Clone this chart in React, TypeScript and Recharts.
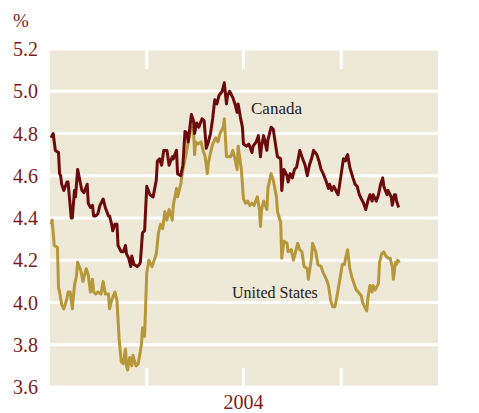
import React from 'react';
import { LineChart, Line, XAxis, YAxis, CartesianGrid } from 'recharts';

// day 0 = 1 July 2003, domain runs one year to 30 June 2004
const canadaDays = [
    1, 3, 5, 8, 9, 10, 11, 13, 16, 17, 20, 21, 23, 24, 26, 28, 30, 32, 35, 36,
    38, 40, 41, 43, 45, 47, 50, 52, 55, 56, 58, 59, 61, 63, 64, 67, 69, 71, 72, 74,
    76, 77, 79, 82, 84, 85, 87, 89, 91, 94, 97, 100, 101, 103, 105, 107, 110, 112, 115, 116,
    119, 120, 123, 125, 127, 129, 130, 133, 135, 136, 138, 140, 143, 145, 147, 149, 151, 153, 155, 157,
    159, 162, 164, 166, 167, 169, 172, 174, 176, 177, 179, 181, 182, 185, 187, 190, 191, 194, 196, 198,
    199, 201, 204, 205, 208, 210, 213, 214, 217, 218, 220, 223, 224, 226, 228, 230, 232, 235, 237, 240,
    242, 244, 246, 248, 251, 253, 255, 257, 260, 262, 263, 265, 267, 269, 271, 274, 276, 278, 279, 280,
    282, 285, 287, 289, 291, 293, 295, 297, 299, 301, 303, 304, 307, 309, 311, 313, 314, 317, 318, 321,
    322, 324, 325, 326, 328,
];
const canadaYield = [
    4.78, 4.8, 4.72, 4.71, 4.61, 4.6, 4.56, 4.53, 4.57, 4.57, 4.4, 4.4, 4.53, 4.5, 4.63, 4.58, 4.53, 4.52, 4.56, 4.47,
    4.45, 4.46, 4.41, 4.41, 4.42, 4.46, 4.49, 4.45, 4.41, 4.41, 4.37, 4.34, 4.37, 4.37, 4.27, 4.24, 4.24, 4.27, 4.23, 4.21,
    4.17, 4.22, 4.18, 4.17, 4.18, 4.19, 4.33, 4.34, 4.55, 4.51, 4.5, 4.58, 4.67, 4.68, 4.65, 4.72, 4.72, 4.65, 4.69, 4.68,
    4.72, 4.61, 4.6, 4.65, 4.81, 4.8, 4.76, 4.89, 4.86, 4.8, 4.85, 4.83, 4.87, 4.86, 4.73, 4.76, 4.8, 4.87, 4.96, 4.94,
    4.98, 5.0, 5.04, 4.94, 4.98, 5.0, 4.97, 4.94, 4.9, 4.94, 4.88, 4.83, 4.75, 4.74, 4.75, 4.71, 4.74, 4.76, 4.79, 4.69,
    4.74, 4.79, 4.72, 4.77, 4.83, 4.82, 4.72, 4.69, 4.68, 4.53, 4.63, 4.6, 4.57, 4.61, 4.59, 4.63, 4.64, 4.72, 4.69, 4.65,
    4.6, 4.65, 4.68, 4.72, 4.7, 4.67, 4.63, 4.61, 4.57, 4.54, 4.56, 4.53, 4.55, 4.53, 4.51, 4.61, 4.68, 4.67, 4.69, 4.7,
    4.64, 4.59, 4.56, 4.55, 4.51, 4.49, 4.47, 4.44, 4.48, 4.51, 4.48, 4.51, 4.48, 4.51, 4.56, 4.59, 4.55, 4.51, 4.53, 4.5,
    4.46, 4.51, 4.51, 4.48, 4.45,
];

const usDays = [
    1, 2, 4, 7, 8, 9, 11, 13, 16, 17, 19, 21, 23, 25, 26, 29, 31, 34, 36, 38,
    40, 41, 43, 45, 48, 50, 52, 55, 56, 58, 61, 63, 65, 67, 69, 71, 72, 73, 75, 77,
    78, 81, 83, 86, 87, 89, 91, 93, 96, 98, 100, 102, 104, 106, 108, 110, 112, 115, 116, 119,
    120, 123, 125, 128, 130, 133, 135, 136, 137, 139, 142, 144, 146, 148, 149, 151, 153, 156, 158, 160,
    163, 164, 166, 167, 170, 172, 174, 176, 177, 180, 182, 184, 186, 188, 190, 192, 195, 197, 198, 199,
    201, 204, 205, 208, 210, 213, 214, 217, 218, 220, 223, 224, 227, 229, 231, 233, 235, 237, 239, 242,
    243, 246, 247, 250, 252, 255, 257, 260, 262, 264, 266, 268, 270, 272, 275, 277, 278, 280, 282, 284,
    286, 288, 290, 293, 294, 296, 298, 299, 301, 303, 304, 306, 308, 309, 310, 312, 314, 316, 318, 320,
    322, 323, 325, 326, 327, 329,
];
const usYield = [
    4.37, 4.39, 4.27, 4.26, 4.07, 4.05, 3.99, 3.97, 4.02, 4.05, 4.05, 3.97, 4.08, 4.13, 4.19, 4.15, 4.1, 4.16, 4.13, 4.05,
    4.11, 4.05, 4.04, 4.05, 4.04, 4.1, 4.04, 4.04, 3.97, 4.01, 4.05, 4.01, 3.83, 3.72, 3.71, 3.78, 3.7, 3.68, 3.74, 3.7,
    3.75, 3.7, 3.71, 3.8, 3.88, 3.84, 4.14, 4.2, 4.17, 4.2, 4.23, 4.33, 4.37, 4.35, 4.43, 4.39, 4.44, 4.39, 4.46, 4.54,
    4.5, 4.56, 4.63, 4.7, 4.76, 4.83, 4.82, 4.7, 4.76, 4.75, 4.76, 4.72, 4.69, 4.61, 4.66, 4.71, 4.75, 4.78, 4.76, 4.8,
    4.83, 4.87, 4.69, 4.69, 4.69, 4.72, 4.68, 4.63, 4.74, 4.63, 4.49, 4.47, 4.48, 4.46, 4.47, 4.46, 4.5, 4.44, 4.36, 4.44,
    4.48, 4.44, 4.54, 4.61, 4.58, 4.5, 4.43, 4.38, 4.21, 4.29, 4.28, 4.24, 4.25, 4.2, 4.24, 4.28, 4.25, 4.24, 4.17, 4.16,
    4.11, 4.21, 4.28, 4.24, 4.18, 4.17, 4.14, 4.11, 4.08, 4.01, 3.98, 3.98, 4.03, 4.09, 4.18, 4.18, 4.21, 4.25, 4.16, 4.12,
    4.09, 4.06, 4.05, 4.03, 4.0, 3.98, 3.96, 4.02, 4.08, 4.05, 4.08, 4.06, 4.08, 4.09, 4.19, 4.23, 4.24, 4.22, 4.21, 4.21,
    4.17, 4.11, 4.19, 4.18, 4.2, 4.19,
];

const yTicks = [3.6, 3.8, 4.0, 4.2, 4.4, 4.6, 4.8, 5.0, 5.2];
const quarterTicks = [91, 182, 274]; // 1 Oct, 1 Jan, 1 Apr
const yearTick = 182;
const yearLabel = '2004';

const canadaData = canadaDays.map((day, i) => ({ day, value: canadaYield[i] }));
const usData = usDays.map((day, i) => ({ day, value: usYield[i] }));

const RED = '#7a1c1c';
const BG = '#eee8d6';
const SERIF = '"Liberation Serif", "Times New Roman", serif';
const PLOT_TOP = 49;
const serifStyle = { fontFamily: SERIF };

// white notches at top and bottom of the plot, plus the year label
const QuarterTick = (props: any) => {
    const { x, y, payload } = props;
    return (
        <g>
            <line x1={x} x2={x} y1={PLOT_TOP} y2={PLOT_TOP + 20} stroke="#fff" strokeWidth={3} />
            <line x1={x} x2={x} y1={y - 19} y2={y} stroke="#fff" strokeWidth={3} />
            {payload.value === yearTick && (
                <text x={x} y={y + 15} dy="0.35em" textAnchor="middle" fill={RED} fontSize={20} style={serifStyle}>
                    {yearLabel}
                </text>
            )}
        </g>
    );
};

const YTick = (props: any) => {
    const { x, y, payload, anchor } = props;
    return (
        <text x={x} y={y} dy="0.35em" textAnchor={anchor} fill={RED} fontSize={20} style={serifStyle}>
            {payload.value.toFixed(1)}
        </text>
    );
};

export default function App() {
    return (
        <div style={{ position: 'absolute', left: 0, top: 0, width: 479, height: 413, background: '#fff' }}>
            <LineChart width={479} height={413} data={canadaData} margin={{ top: PLOT_TOP, right: 0, bottom: 0, left: 0 }}>
                <CartesianGrid vertical={false} stroke="#fff" strokeWidth={3} fill={BG} yAxisId="left" />
                <XAxis
                    type="number"
                    dataKey="day"
                    domain={[0, 365]}
                    ticks={quarterTicks}
                    height={26}
                    axisLine={false}
                    tickLine={false}
                    tickSize={0}
                    tickMargin={0}
                    tick={<QuarterTick />}
                    interval={0}
                />
                <YAxis
                    yAxisId="left"
                    domain={[3.6, 5.2]}
                    ticks={yTicks}
                    width={50}
                    axisLine={false}
                    tickLine={false}
                    tickSize={0}
                    tickMargin={12}
                    tick={<YTick anchor="end" />}
                    interval={0}
                />
                <YAxis
                    yAxisId="right"
                    orientation="right"
                    domain={[3.6, 5.2]}
                    ticks={yTicks}
                    width={41}
                    axisLine={false}
                    tickLine={false}
                    tickSize={0}
                    tickMargin={14}
                    tick={<YTick anchor="start" />}
                    interval={0}
                />
                <Line
                    yAxisId="left"
                    data={usData}
                    dataKey="value"
                    type="linear"
                    stroke="#b6973a"
                    strokeWidth={3}
                    strokeLinejoin="round"
                    dot={false}
                    isAnimationActive={false}
                />
                <Line
                    yAxisId="left"
                    data={canadaData}
                    dataKey="value"
                    type="linear"
                    stroke="#6b0b0b"
                    strokeWidth={3}
                    strokeLinejoin="round"
                    dot={false}
                    isAnimationActive={false}
                />
            </LineChart>
            <svg width={479} height={413} style={{ position: 'absolute', left: 0, top: 0, pointerEvents: 'none' }}>
                <text x={13} y={27} fill={RED} fontSize={19} style={serifStyle}>%</text>
                <text x={251} y={114} fill="#222" fontSize={17} style={serifStyle}>Canada</text>
                <text x={232} y={298} fill="#222" fontSize={16} style={serifStyle}>United States</text>
            </svg>
        </div>
    );
}
